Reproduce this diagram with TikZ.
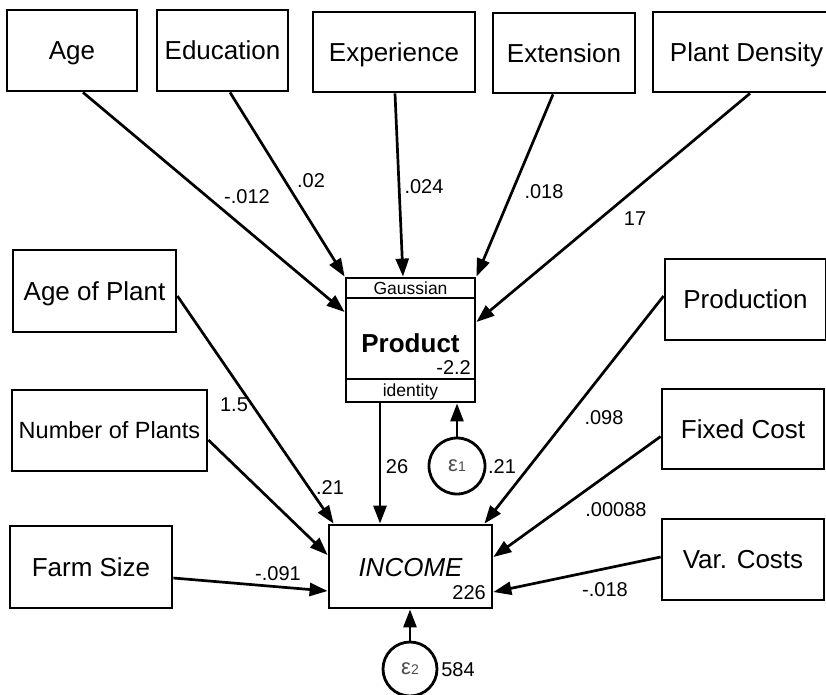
\documentclass[tikz,border=0pt]{standalone}
\usepackage{fontspec}
\setmainfont{Liberation Sans}
\usetikzlibrary{arrows.meta,calc}

\tikzset{
  obs/.style={draw, line width=2.8pt, inner sep=0pt, text height=18.6pt, text depth=0pt, font=\fontsize{26}{30}\selectfont},
  link/.style={line width=2.7pt, -{Triangle[length=18pt,width=13pt]}},
  coef/.style={inner sep=0pt, font=\fontsize{20}{24}\selectfont},
  err/.style={draw, circle, line width=2.8pt, inner sep=0pt}
}

\begin{document}
\begin{tikzpicture}[x=1pt, y=-1pt]
  \clip (0,0) rectangle (826,694);
  \node[obs, minimum width=130pt, minimum height=81pt] (age) at (72,50.5) {Age};
  \node[obs, minimum width=131pt, minimum height=81pt] (edu) at (222.5,50.5) {Education};
  \node[obs, minimum width=162pt, minimum height=80pt] (exper) at (394,52) {Experience};
  \node[obs, minimum width=142pt, minimum height=80pt] (ext) at (564,53) {Extension};
  \node[obs, minimum width=187pt, minimum height=80pt] (dens) at (746.5,52) {Plant Density};
  \node[obs, minimum width=163pt, minimum height=82pt] (aplant) at (94.5,291) {Age of Plant};
  \node[obs, minimum width=195pt, minimum height=81pt, text height=16.8pt, font=\fontsize{23.5}{28}\selectfont] (nplant) at (109.5,430.5) {Number of Plants};
  \node[obs, minimum width=162pt, minimum height=82pt] (farm) at (91,567) {Farm Size};
  \node[obs, minimum width=161pt, minimum height=81pt] (production) at (745.5,299.5) {Production};
  \node[obs, minimum width=162pt, minimum height=80pt] (fixed) at (743,429) {Fixed Cost};
  \node[obs, minimum width=162pt, minimum height=81pt] (var) at (743,559.5) {Var. Costs};

  \node[obs, minimum width=129pt, minimum height=20pt, text height=12.5pt, font=\fontsize{17.5}{20}\selectfont] (gauss) at (410.5,288) {Gaussian};
  \node[obs, minimum width=129pt, minimum height=81pt] (prod) at (410.5,338.5) {};
  \node[obs, minimum width=129pt, minimum height=23pt, text height=12.5pt, font=\fontsize{17.5}{20}\selectfont] (ident) at (410.5,390.5) {identity};
  \node[inner sep=0pt, font=\fontsize{26}{30}\selectfont\bfseries] (prodname) at (410.5,343.5) {Product};
  \node[coef, anchor=east] (prodcons) at (471,368) {-2.2};

  \node[obs, minimum width=163pt, minimum height=83pt] (inc) at (410.5,566.5) {};
  \node[inner sep=0pt, font=\fontsize{26}{30}\selectfont\itshape] (incname) at (410.5,567.5) {INCOME};
  \node[coef, anchor=east] (inccons) at (486,593) {226};

  \node[err, minimum size=56pt] (eps1) at (457,466) {\textcolor{black!70}{\fontsize{22}{22}\selectfont ε\fontsize{14}{14}\selectfont 1}};
  \node[err, minimum size=54pt] (eps2) at (410,669) {\textcolor{black!70}{\fontsize{22}{22}\selectfont ε\fontsize{14}{14}\selectfont 2}};
  \node[coef] (eps1var) at (502,467) {.21};
  \node[coef] (eps2var) at (458,670) {584};

  \draw[link] ($(age.south)+(11,0)$) -- ($(prod.west)+(0,-26.5)$);
  \draw[link] ($(edu.south)+(7.5,0)$) -- (gauss.north west);
  \draw[link] ($(exper.south)+(1,0)$) -- ($(gauss.north)+(-7.5,0)$);
  \draw[link] ($(ext.south)+(-11,0)$) -- (gauss.north east);
  \draw[link] ($(dens.south)+(3.5,0)$) -- ($(prod.east)+(0,-16.5)$);

  \draw[link] ($(ident.south)+(-30.5,0)$) -- ($(inc.north)+(-30.5,0)$);
  \draw[link] (eps1.north) -- (eps1.north |- ident.south);
  \draw[link] (eps2.north) -- (eps2.north |- inc.south);

  \draw[link] ($(aplant.east)+(0,5)$) -- ($(inc.north west)+(6,0)$);
  \draw[link] ($(nplant.east)+(0,9.5)$) -- ($(inc.west)+(0,-11.5)$);
  \draw[link] ($(farm.east)+(0,11)$) -- ($(inc.west)+(0,24.5)$);
  \draw[link] ($(production.west)+(0,-3.5)$) -- ($(inc.north east)+(-9,0)$);
  \draw[link] ($(fixed.west)+(0,7.5)$) -- ($(inc.east)+(0,-9.5)$);
  \draw[link] ($(var.west)+(0,-2.5)$) -- ($(inc.east)+(0,25.5)$);

  \node[coef] (c1) at (247,197) {-.012};
  \node[coef] (c2) at (311,181) {.02};
  \node[coef] (c3) at (424,187) {.024};
  \node[coef] (c4) at (544,192) {.018};
  \node[coef] (c5) at (635,219) {17};
  \node[coef] (c6) at (234,405) {1.5};
  \node[coef] (c7) at (330,488) {.21};
  \node[coef] (c8) at (278,574) {-.091};
  \node[coef] (c9) at (397,467) {26};
  \node[coef] (c10) at (604,418) {.098};
  \node[coef] (c11) at (616,510) {.00088};
  \node[coef] (c12) at (605,590) {-.018};
\end{tikzpicture}
\end{document}
